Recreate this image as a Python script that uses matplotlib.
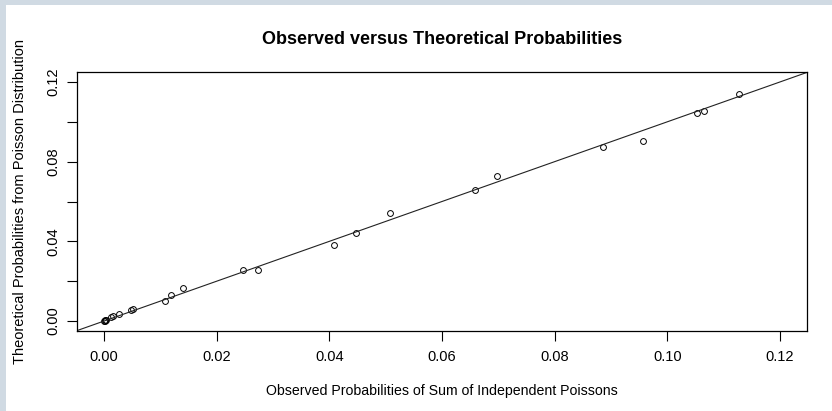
#!/usr/bin/python3
#
# observed vs theoretical probabilities scatter with y = x reference line
#
import matplotlib
matplotlib.use('Agg')
import matplotlib.pyplot as plt
from matplotlib.patches import Rectangle
#
plt.rcParams['font.family'] = ['Liberation Sans', 'DejaVu Sans']
#
# values
#
observed = [0.0000, 0.0001, 0.0002, 0.0003, 0.0012, 0.0016, 0.0027,
            0.0048, 0.0052, 0.0108, 0.0119, 0.0140, 0.0246, 0.0273,
            0.0408, 0.0448, 0.0508, 0.0659, 0.0698, 0.0886, 0.0956,
            0.1053, 0.1065, 0.1128]
theoretical = [0.0000, 0.0001, 0.0003, 0.0005, 0.0020, 0.0025, 0.0035,
               0.0055, 0.0060, 0.0100, 0.0130, 0.0165, 0.0258, 0.0258,
               0.0383, 0.0440, 0.0543, 0.0658, 0.0727, 0.0873, 0.0905,
               0.1043, 0.1055, 0.1142]
#
x_ticks = [0.00, 0.02, 0.04, 0.06, 0.08, 0.10, 0.12]
x_tick_labels = ['0.00', '0.02', '0.04', '0.06', '0.08', '0.10', '0.12']
y_ticks = [0.00, 0.02, 0.04, 0.06, 0.08, 0.10, 0.12]
y_tick_labels = ['0.00', '', '0.04', '', '0.08', '', '0.12']
#
W, H = 832, 411
fig = plt.figure(figsize=(W / 100, H / 100), dpi=100)
fig.patch.set_facecolor('white')
#
# light frame on top and left edge
#
frame = '#d0dae3'
fig.patches.append(Rectangle((0, 1 - 5 / H), 1, 5 / H, transform=fig.transFigure,
                             facecolor=frame, edgecolor='none'))
fig.patches.append(Rectangle((0, 0), 6 / W, 1, transform=fig.transFigure,
                             facecolor=frame, edgecolor='none'))
#
ax = fig.add_axes([77 / W, (H - 331) / H, 730 / W, 259 / H])
#
ax.plot(observed, theoretical, 'o', markerfacecolor='none',
        markeredgecolor='black', markersize=4.2, markeredgewidth=0.7)
ax.axline((0, 0), slope=1, color='#222222', linewidth=0.8)
#
ax.set_xlim(-0.0048, 0.1248)
ax.set_ylim(-0.005, 0.125)
#
ax.set_xticks(x_ticks)
ax.set_xticklabels(x_tick_labels)
ax.set_yticks(y_ticks)
ax.set_yticklabels(y_tick_labels, rotation=90, va='center')
ax.tick_params(axis='both', direction='out', length=7, width=0.8,
               labelsize=10.5, colors='black', pad=5)
ax.tick_params(axis='x', pad=7)
#
for s in ax.spines.values():
    s.set_linewidth(0.9)
#
ax.set_title('Observed versus Theoretical Probabilities',
             fontsize=13, fontweight='bold', pad=20)
ax.set_xlabel('Observed Probabilities of Sum of Independent Poissons',
              fontsize=10.2, labelpad=14)
ax.set_ylabel('Theoretical Probabilities from Poisson Distribution',
              fontsize=10.5, labelpad=14)
#
plt.savefig('out.png', dpi=100)
